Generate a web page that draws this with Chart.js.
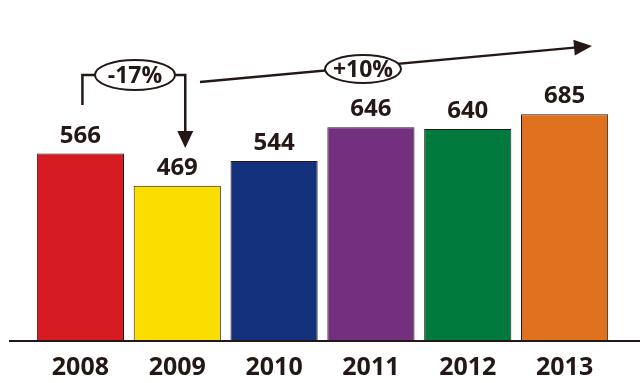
<!DOCTYPE html>
<html>
<head>
<meta charset="utf-8">
<script src="https://cdn.jsdelivr.net/npm/chart.js@4/dist/chart.umd.min.js"></script>
<style>
html,body{margin:0;padding:0;background:#fff;}
#wrap{width:640px;height:383px;position:relative;}
</style>
</head>
<body>
<div id="wrap"><canvas id="c" width="640" height="383"></canvas></div>
<script>
const years = ['2008','2009','2010','2011','2012','2013'];
const values = [566, 469, 544, 646, 640, 685];
const barColors = ['#d71b23','#f9de00','#14327c','#72307f','#007a3c','#e0721f'];
const changeLabels = ['-17%', '+10%'];

const ink = '#231815';
const FONT = '"Open Sans", "DejaVu Sans", sans-serif';

function ellipseLabel(ctx, cx, cy, rx, ry, text) {
  ctx.save();
  ctx.fillStyle = '#fff';
  ctx.strokeStyle = ink;
  ctx.lineWidth = 2;
  ctx.beginPath();
  ctx.ellipse(cx, cy, rx, ry, 0, 0, Math.PI * 2);
  ctx.fill();
  ctx.stroke();
  ctx.fillStyle = ink;
  ctx.font = 'bold 23px ' + FONT;
  ctx.textAlign = 'center';
  ctx.textBaseline = 'middle';
  ctx.fillText(text, cx, cy + 1);
  ctx.restore();
}

function arrowHead(ctx, tipX, tipY, angle, len, half) {
  ctx.save();
  ctx.translate(tipX, tipY);
  ctx.rotate(angle);
  ctx.beginPath();
  ctx.moveTo(0, 0);
  ctx.lineTo(-len, -half);
  ctx.lineTo(-len, half);
  ctx.closePath();
  ctx.fillStyle = ink;
  ctx.fill();
  ctx.restore();
}

const overlay = {
  id: 'overlay',
  afterDatasetsDraw(chart) {
    const ctx = chart.ctx;
    const xs = chart.scales.x, ys = chart.scales.y;
    const base = ys.getPixelForValue(0);
    // baseline
    ctx.save();
    ctx.strokeStyle = ink;
    ctx.lineWidth = 2;
    ctx.beginPath();
    ctx.moveTo(9, base);
    ctx.lineTo(640, base);
    ctx.stroke();
    ctx.restore();

    // value labels
    const meta = chart.getDatasetMeta(0);
    ctx.save();
    ctx.fillStyle = ink;
    ctx.font = 'bold 24px ' + FONT;
    ctx.textAlign = 'center';
    ctx.textBaseline = 'alphabetic';
    meta.data.forEach((bar, i) => {
      ctx.fillText(String(values[i]), bar.x, bar.y - 11);
    });
    ctx.restore();

    // -17% bracket arrow
    const x0 = xs.getPixelForValue(0) + 2;
    const x1 = xs.getPixelForValue(1) + 8;
    const yb = 75;
    ctx.save();
    ctx.strokeStyle = ink;
    ctx.lineWidth = 2.5;
    ctx.beginPath();
    ctx.moveTo(x0, 105);
    ctx.lineTo(x0, yb);
    ctx.lineTo(x1, yb);
    ctx.lineTo(x1, 134);
    ctx.stroke();
    ctx.restore();
    arrowHead(ctx, x1, 148, Math.PI / 2, 17, 8);
    ellipseLabel(ctx, 135, 75, 40, 15, changeLabels[0]);

    // +10% trend arrow
    const sx = 200, sy = 82, ex = 592, ey = 46;
    const ang = Math.atan2(ey - sy, ex - sx);
    ctx.save();
    ctx.strokeStyle = ink;
    ctx.lineWidth = 2.5;
    ctx.beginPath();
    ctx.moveTo(sx, sy);
    ctx.lineTo(ex - 15 * Math.cos(ang), ey - 15 * Math.sin(ang));
    ctx.stroke();
    ctx.restore();
    arrowHead(ctx, ex, ey, ang, 18, 8);
    ellipseLabel(ctx, 363, 69, 38, 14, changeLabels[1]);
  }
};

new Chart(document.getElementById('c'), {
  type: 'bar',
  data: {
    labels: years,
    datasets: [{
      data: values,
      backgroundColor: barColors,
      borderColor: ink,
      borderWidth: 1,
      barPercentage: 0.9,
      categoryPercentage: 1.0
    }]
  },
  options: {
    responsive: false,
    animation: false,
    devicePixelRatio: 1,
    layout: { padding: { left: 32, right: 27, top: 0, bottom: -12 } },
    plugins: { legend: { display: false }, tooltip: { enabled: false } },
    scales: {
      y: { display: false, min: 0, max: 1030 },
      x: {
        grid: { display: false, drawTicks: false },
        border: { display: false },
        ticks: {
          color: ink,
          padding: 12,
          font: { family: FONT, weight: 'bold', size: 25, lineHeight: 1.2 }
        }
      }
    }
  },
  plugins: [overlay]
});
</script>
</body>
</html>
